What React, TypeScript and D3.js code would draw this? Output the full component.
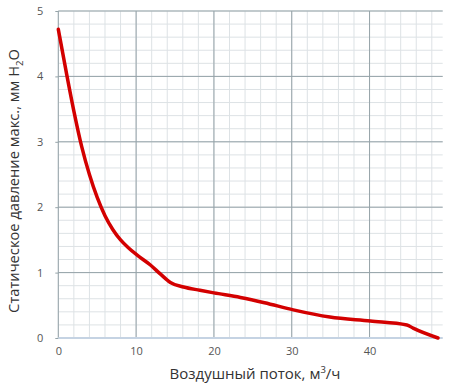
import React, { useEffect, useRef } from "react";
import * as d3 from "d3";

// airflow, m3/h
const flow = [0, 1, 2, 3, 4, 5, 6, 7, 8, 9, 10.1, 11.8, 13.1, 14.4, 16.1, 18.2, 20, 23.4, 26.5, 30.2, 34.9, 40.1, 44.8, 45.6, 48.8];
// static pressure, mm H2O
const pressure = [4.72, 4.08, 3.47, 2.93, 2.5, 2.15, 1.87, 1.66, 1.5, 1.38, 1.27, 1.12, 0.98, 0.85, 0.78, 0.73, 0.69, 0.62, 0.54, 0.43, 0.32, 0.26, 0.2, 0.15, 0];

const xTicks = [0, 10, 20, 30, 40];
const yTicks = [0, 1, 2, 3, 4, 5];

const Chart = () => {
  const ref = useRef<SVGSVGElement>(null);

  function draw() {
    const svg = d3.select(ref.current);
    svg.selectAll("*").remove();
    const width = 450;
    const height = 385;
    const left = 58.3;
    const right = 442.7;
    const top = 11;
    const bottom = 338;

    const x = d3.scaleLinear().domain([0, 49.4]).range([left, right]);
    const y = d3.scaleLinear().domain([0, 5]).range([bottom, top]);

    svg.attr("width", width).attr("height", height).attr("viewBox", [0, 0, width, height]);

    const grid = svg.append("g");
    // minor grid
    grid
      .selectAll()
      .data(d3.range(0, 49.4, 2))
      .join("line")
      .attr("x1", (d) => x(d))
      .attr("x2", (d) => x(d))
      .attr("y1", top)
      .attr("y2", bottom)
      .attr("stroke", "#dde2e5")
      .attr("stroke-width", 1);
    grid
      .selectAll()
      .data(d3.range(0, 5.01, 0.2))
      .join("line")
      .attr("x1", left)
      .attr("x2", right)
      .attr("y1", (d) => y(d))
      .attr("y2", (d) => y(d))
      .attr("stroke", "#dde2e5")
      .attr("stroke-width", 1);
    // major grid
    grid
      .selectAll()
      .data(xTicks)
      .join("line")
      .attr("x1", (d) => x(d))
      .attr("x2", (d) => x(d))
      .attr("y1", top)
      .attr("y2", bottom)
      .attr("stroke", "#95a3a8")
      .attr("stroke-width", 1);
    grid
      .selectAll()
      .data(yTicks)
      .join("line")
      .attr("x1", left)
      .attr("x2", right)
      .attr("y1", (d) => y(d))
      .attr("y2", (d) => y(d))
      .attr("stroke", (d) => (d === 0 ? "#c5d3e3" : "#95a3a8"))
      .attr("stroke-width", (d) => (d === 0 ? 2 : 1));

    // axes
    svg
      .append("g")
      .attr("transform", `translate(0,${bottom})`)
      .call(d3.axisBottom(x).tickValues(xTicks).tickSize(0).tickPadding(9))
      .call((g) => g.select(".domain").remove())
      .call((g) =>
        g.selectAll("text").attr("fill", "#555").attr("font-size", 11).attr("font-family", "'Open Sans', sans-serif")
      );

    svg
      .append("g")
      .attr("transform", `translate(${left},0)`)
      .call(d3.axisLeft(y).tickValues(yTicks).tickFormat(d3.format("d")).tickSize(3).tickPadding(12))
      .call((g) => g.select(".domain").remove())
      .call((g) => g.selectAll("line").attr("stroke", "#95a3a8"))
      .call((g) =>
        g.selectAll("text").attr("fill", "#555").attr("font-size", 11).attr("font-family", "'Open Sans', sans-serif")
      );

    const pts: [number, number][] = flow.map((f, i) => [f, pressure[i]]);
    svg
      .append("path")
      .datum(pts)
      .attr("fill", "none")
      .attr("stroke", "#d30000")
      .attr("stroke-width", 3.5)
      .attr("stroke-linecap", "round")
      .attr("stroke-linejoin", "round")
      .attr(
        "d",
        d3
          .line<[number, number]>()
          .x((d) => x(d[0]))
          .y((d) => y(d[1]))
          .curve(d3.curveMonotoneX)
      );

    // axis titles
    const xt = svg
      .append("text")
      .attr("x", 255)
      .attr("y", 379)
      .attr("text-anchor", "middle")
      .attr("fill", "#333")
      .attr("font-size", 15)
      .attr("font-family", "'Open Sans', sans-serif");
    xt.append("tspan").text("Воздушный поток, м");
    xt.append("tspan").attr("font-size", 9.5).attr("dy", -6).text("3");
    xt.append("tspan").attr("dy", 6).text("/ч");

    const yt = svg
      .append("text")
      .attr("transform", `translate(19,181) rotate(-90)`)
      .attr("text-anchor", "middle")
      .attr("fill", "#333")
      .attr("font-size", 14.7)
      .attr("font-family", "'Open Sans', sans-serif");
    yt.append("tspan").text("Статическое давление макс., мм H");
    yt.append("tspan").attr("font-size", 9.5).attr("dy", 4).text("2");
    yt.append("tspan").attr("dy", -4).text("O");
  }

  useEffect(() => {
    draw();
  }, []);

  return <svg ref={ref} style={{ position: "absolute", left: 0, top: 0 }} />;
};

export default function App() {
  return <Chart />;
}
